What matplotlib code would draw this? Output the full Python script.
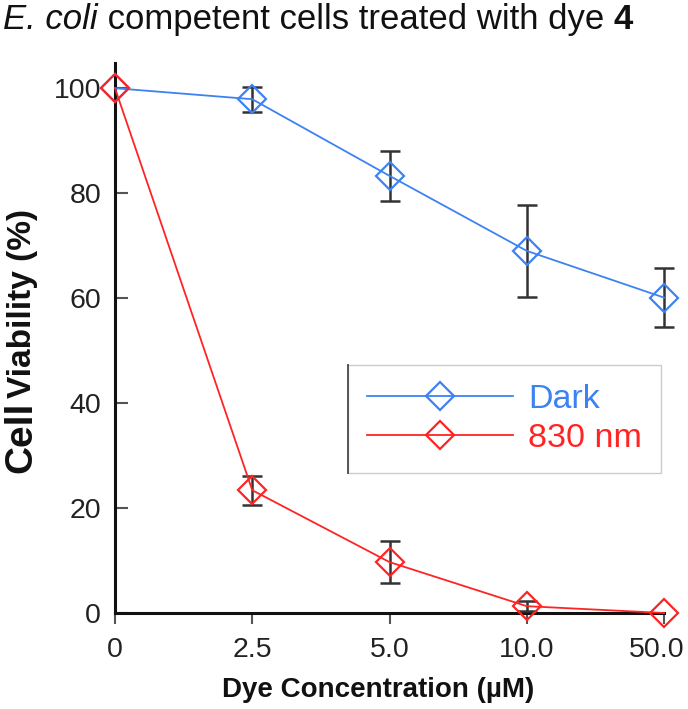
import matplotlib
matplotlib.use("Agg")
import matplotlib.pyplot as plt
from matplotlib.lines import Line2D
from matplotlib.transforms import ScaledTranslation
import numpy as np

# ---- data ----
categories = ["0", "2.5", "5.0", "10.0", "50.0"]
dark_values = [100.0, 97.9, 83.3, 69.0, 60.1]
dark_err = [0.0, 2.4, 4.8, 8.7, 5.6]
nir_values = [100.0, 23.4, 9.7, 1.3, 0.0]
nir_err = [0.0, 2.8, 4.0, 1.0, 0.0]
series_labels = ["Dark", "830 nm"]
yticks = [0, 20, 40, 60, 80, 100]

BLUE = "#3d82f2"
RED = "#ff2424"
ERR = "#333333"
TXT = "#222222"

plt.rcParams['font.family'] = ['Liberation Sans', 'DejaVu Sans']

W, H = 688, 709
fig = plt.figure(figsize=(W / 100, H / 100), dpi=100)
ax = fig.add_axes([115 / W, 1 - 613 / H, (664 - 115) / W, (613 - 63) / H])

x = np.arange(len(categories))

def draw(vals, errs, color, label, z):
    vals = np.asarray(vals); errs = np.asarray(errs)
    m = errs > 0
    ax.errorbar(x[m], vals[m], yerr=errs[m], fmt='none', ecolor=ERR,
                elinewidth=1.8, capsize=7, capthick=1.8, zorder=z, clip_on=False)
    line, = ax.plot(x, vals, color=color, lw=1.3, marker='D', ms=14,
                    mfc='none', mec=color, mew=1.6, label=label, zorder=z + 1,
                    clip_on=False)
    return line

h1 = draw(dark_values, dark_err, BLUE, series_labels[0], 3)
h2 = draw(nir_values, nir_err, RED, series_labels[1], 5)

ax.set_xlim(0, 4)
ax.set_ylim(0, 104.8)
ax.set_xticks(x)
ax.set_xticklabels(categories)
ax.set_yticks(yticks)
ax.set_yticklabels([str(v) for v in yticks])

for s in ['top', 'right']:
    ax.spines[s].set_visible(False)
for s in ['left', 'bottom']:
    ax.spines[s].set_linewidth(2.2)
    ax.spines[s].set_color('#111111')

ax.tick_params(axis='y', direction='in', length=9, width=1.5, color='#555555',
               labelsize=20.5, labelcolor=TXT, pad=10)
ax.tick_params(axis='x', direction='out', length=8, width=1.5, color='#555555',
               labelsize=20.5, labelcolor=TXT, pad=9)

# keep the last x tick label inside the figure (as in the reference)
last = ax.get_xticklabels()[-1]
last.set_transform(last.get_transform() +
                   ScaledTranslation(-0.07, 0, fig.dpi_scale_trans))

ax.set_xlabel("Dye Concentration (\u00b5M)", fontsize=20, fontweight='bold',
              color='#111111')
ax.xaxis.set_label_coords((378 - 115) / (664 - 115), -(690 - 613) / (613 - 63))
ax.xaxis.label.set_va('center')

# y label with mixed sizes
fig.text(31 / W, 1 - 473 / H, "Cell", rotation=90, rotation_mode='anchor',
         ha='left', va='baseline', fontsize=28, fontweight='bold', color='#111111')
fig.text(31 / W, 1 - 398 / H, "Viability (%)", rotation=90, rotation_mode='anchor',
         ha='left', va='baseline', fontsize=24, fontweight='bold', color='#111111')

# title pieces
fig.canvas.draw()
r = fig.canvas.get_renderer()
pieces = [("E. coli", dict(style='italic')),
          (" competent cells treated with dye ", dict()),
          ("4", dict(weight='bold'))]
xpos = 3
for txt, kw in pieces:
    t = fig.text(xpos / W, 1 - 29 / H, txt, fontsize=25, color='#111111',
                 ha='left', va='baseline', **kw)
    bb = t.get_window_extent(renderer=r)
    xpos += bb.width

leg = ax.legend(handles=[h1, h2], loc='upper left',
                bbox_to_anchor=((348 - 115) / 549, (613 - 365) / 550),
                fontsize=24.5, handlelength=4.3, handletextpad=0.45,
                labelspacing=0.25, borderpad=0.55, borderaxespad=0,
                numpoints=1, fancybox=False, framealpha=1, edgecolor='#cccccc')
leg.get_frame().set_linewidth(1.0)
for t, c in zip(leg.get_texts(), [BLUE, RED]):
    t.set_color(c)

fig.canvas.draw()
lb = leg.get_window_extent(renderer=fig.canvas.get_renderer())
fig.add_artist(Line2D([lb.x0 / W, lb.x0 / W], [lb.y0 / H, lb.y1 / H],
                      color='#555555', lw=1.4, transform=fig.transFigure, zorder=10))

fig.savefig("out.png", dpi=100)
